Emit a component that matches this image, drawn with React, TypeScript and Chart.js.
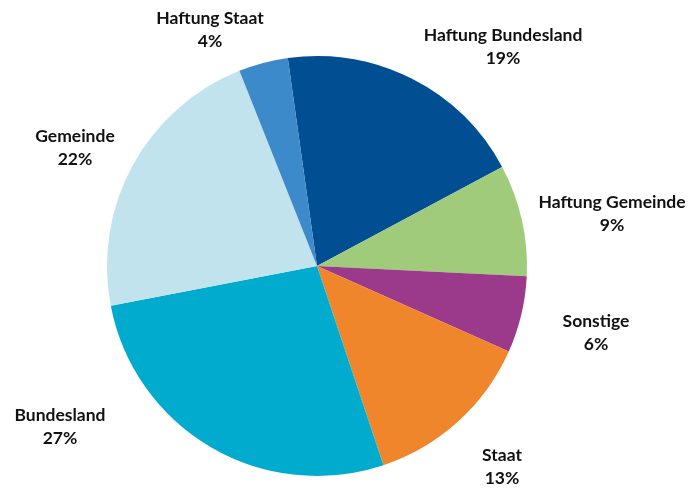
import React, { useEffect, useRef } from "react";
import { Chart, registerables } from "chart.js";

Chart.register(...registerables);

const categories = [
  "Haftung Bundesland",
  "Haftung Gemeinde",
  "Sonstige",
  "Staat",
  "Bundesland",
  "Gemeinde",
  "Haftung Staat",
];
const shares = [19.4, 8.6, 5.9, 13.2, 27.1, 22.0, 3.8];
const colors = ["#024E93", "#A0CB7B", "#9B3A8B", "#F0862B", "#00ABCE", "#C1E3EE", "#3D8ACB"];
// label offset from pie center (px), Excel-like placement
const labelOffsets: [number, number][] = [
  [186, -219],
  [295, -52],
  [279, 67],
  [185, 201],
  [-257, 161],
  [-242, -118],
  [-107, -236],
];

const labelPlugin = {
  id: "sliceLabels",
  afterDatasetsDraw(chart: any) {
    const ctx = chart.ctx;
    const meta = chart.getDatasetMeta(0);
    const ds = chart.data.datasets[0].data as number[];
    const total = ds.reduce((a, b) => a + b, 0);
    ctx.save();
    ctx.fillStyle = "#111111";
    ctx.font = "bold 17.5px Lato, 'Open Sans', sans-serif";
    ctx.textAlign = "center";
    ctx.textBaseline = "middle";
    meta.data.forEach((arc: any, i: number) => {
      const cx = arc.x + labelOffsets[i][0];
      const cy = arc.y + labelOffsets[i][1];
      const pct = Math.round((ds[i] / total) * 100) + "%";
      ctx.fillText(chart.data.labels[i], cx, cy - 11.5);
      ctx.fillText(pct, cx, cy + 11.5);
    });
    ctx.restore();
  },
};

export default function App() {
  const ref = useRef<HTMLCanvasElement | null>(null);
  useEffect(() => {
    document.body.style.margin = "0";
    const chart = new Chart(ref.current!, {
      type: "pie",
      data: {
        labels: categories,
        datasets: [
          {
            data: shares,
            backgroundColor: colors,
            borderWidth: 0,
          },
        ],
      },
      options: {
        animation: false,
        responsive: false,
        rotation: -8,
        layout: { padding: { top: 56, bottom: 12, left: 107, right: 163 } },
        plugins: { legend: { display: false }, tooltip: { enabled: false } },
      },
      plugins: [labelPlugin],
    });
    return () => chart.destroy();
  }, []);
  return (
    <div style={{ width: 690, height: 488 }}>
      <canvas ref={ref} width={690} height={488} style={{ display: "block" }} />
    </div>
  );
}
